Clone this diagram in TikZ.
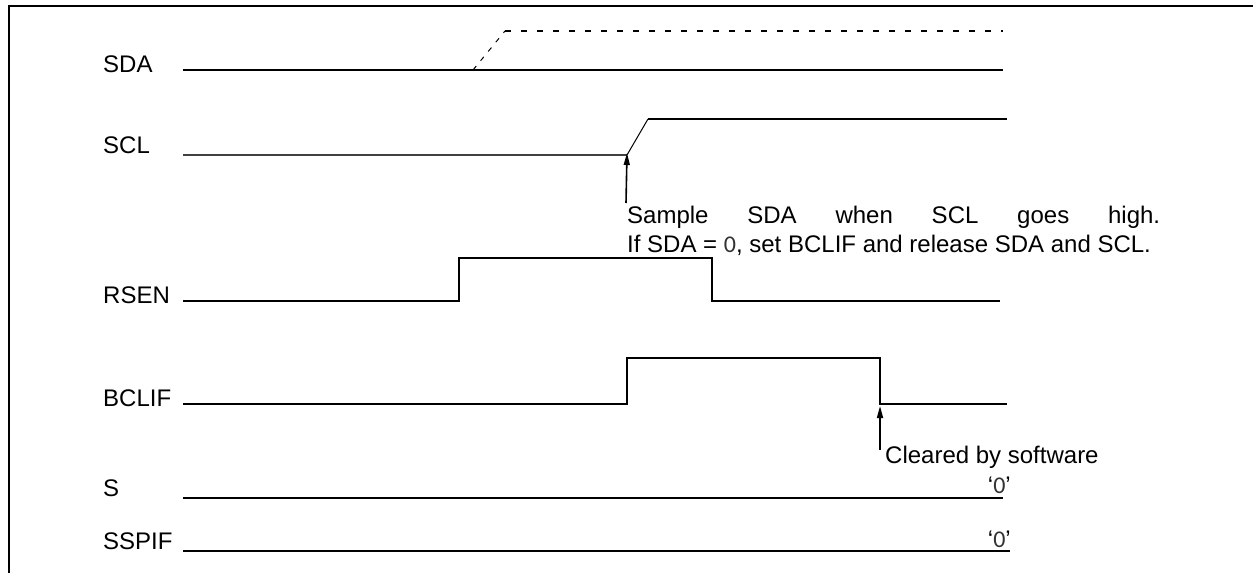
\documentclass[tikz,border=0pt]{standalone}
\usepackage{fontspec}
\setmainfont{Liberation Sans}
\newfontfamily\zerof{Carlito}
\usetikzlibrary{arrows.meta}
\begin{document}
\begin{tikzpicture}[x=1pt,y=-1pt,
  sig/.style={line width=2pt},
  edge/.style={line width=1pt},
  lbl/.style={anchor=base west, inner sep=0pt, font=\fontsize{24}{29}\selectfont},
  txt/.style={anchor=base west, inner sep=0pt, font=\fontsize{24}{29}\selectfont},
  zero/.style={anchor=base east, inner sep=0pt, font=\fontsize{24}{29}\selectfont},
  ptr/.style={line width=1.6pt, -{Triangle[length=12pt,width=6pt]}},
]
\useasboundingbox (0,0) rectangle (1253,573);
\draw[line width=2pt] (9,573) -- (9,6) -- (1253,6);

% labels
\node[lbl] (lsda) at (103,72) {SDA};
\node[lbl] (lscl) at (103,153) {SCL};
\node[lbl] (lrsen) at (103,303) {RSEN};
\node[lbl] (lbclif) at (103,406) {BCLIF};
\node[lbl] (ls) at (103,496) {S};
\node[lbl] (lsspif) at (103,549) {SSPIF};

% SDA
\draw[sig] (183,70) -- (1003,70);
\draw[edge, dash pattern=on 5pt off 7pt] (473,70) -- (505,31);
\draw[sig, dash pattern=on 6pt off 10pt] (505,31) -- (1003,31);

% SCL
\draw[line width=1.5pt, black!75] (183,155) -- (627,155);
\coordinate (sclrise) at (627,155);
\draw[edge] (sclrise) -- (648,119);
\draw[sig] (648,119) -- (1007,119);

% RSEN
\draw[sig] (183,301) -- (459,301) -- (459,258) -- (712,258) -- (712,301) -- (1000,301);

% BCLIF
\draw[sig] (183,404) -- (627,404) -- (627,358) -- (880,358) -- (880,404) -- (1007,404);
\coordinate (bclfall) at (880,406);

% S and SSPIF
\draw[sig] (183,498) -- (1003,498);
\node[zero] (zs) at (1011,493) {‘{\zerof\color{black!80}0}’};
\draw[sig] (183,551) -- (1010,551);
\node[zero] (zsspif) at (1011,547) {‘{\zerof\color{black!80}0}’};

% notes
\node[anchor=north west, inner sep=0pt, text width=533pt, align=justify,
      font=\fontsize{24}{29}\selectfont] (note) at (627,205.6)
  {\noindent Sample SDA when SCL goes high.\linebreak
   If SDA = {\zerof\color{black!80}0}, set BCLIF and release SDA and SCL.};
\coordinate (a1) at (626,203);
\draw[ptr] (a1) -- ([yshift=2pt]sclrise);

\node[txt] (cleared) at (885,463) {Cleared by software};
\coordinate (a2) at (880,450);
\draw[ptr] (a2) -- (bclfall);
\end{tikzpicture}
\end{document}
